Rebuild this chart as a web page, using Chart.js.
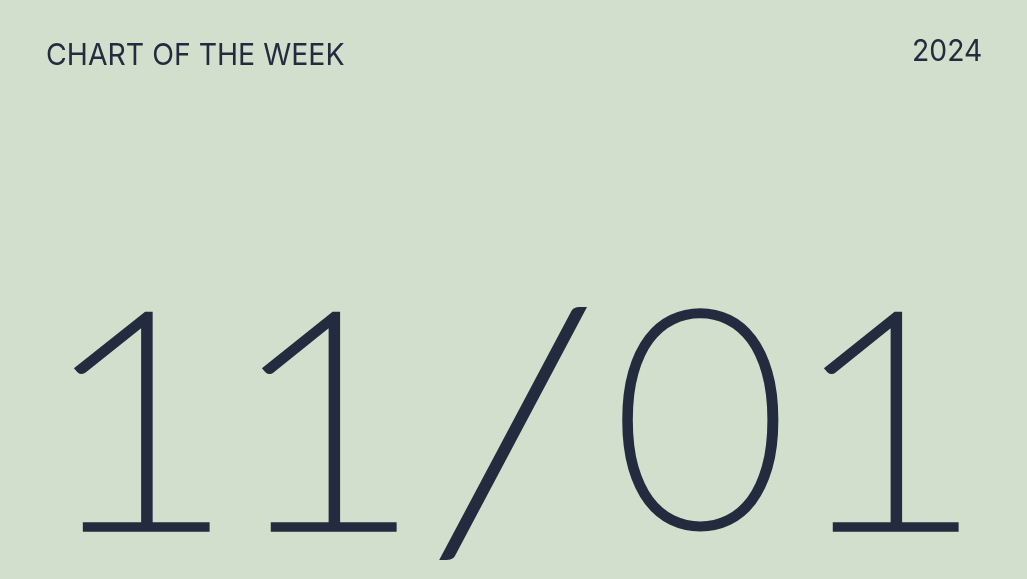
<!DOCTYPE html>
<html>
<head>
<meta charset="utf-8">
<title>Chart of the week</title>
<script src="https://cdn.jsdelivr.net/npm/chart.js@4.4.1/dist/chart.umd.min.js"></script>
<style>
  html, body { margin: 0; padding: 0; background: #d1dfcc; }
  #wrap { width: 1027px; height: 579px; position: relative; }
</style>
</head>
<body>
<div id="wrap"><canvas id="cover"></canvas></div>
<script>
// texts shown on the card
const headerText = ['CHART OF THE WEEK'];
const yearText = ['2024'];
const dateChars = ['1', '1', '/', '0', '1'];

const BG = '#d1dfcc';
const INK = '#232c3e';

// ink boxes [x0, y0, x1, y1]
const headerBox = [47, 43, 344, 65];
const yearBox = [914, 39, 981, 61];
const dateBoxes = [
    [72, 307, 213, 532],
    [260, 307, 400, 532],
    [437, 302, 590, 563],
    [619, 305, 781, 534],
    [822, 307, 962, 532]
];

// fit a string's ink into a box; "grow" thickens the strokes by that much
function fitText(ctx, text, font, box, grow) {
    const g = grow || 0;
    ctx.save();
    ctx.font = font;
    ctx.textAlign = 'left';
    ctx.textBaseline = 'alphabetic';
    const m = ctx.measureText(text);
    const inkW = m.actualBoundingBoxLeft + m.actualBoundingBoxRight;
    const inkH = m.actualBoundingBoxAscent + m.actualBoundingBoxDescent;
    const sx = (box[2] - box[0] - g) / inkW;
    const sy = (box[3] - box[1] - g) / inkH;
    ctx.translate(box[0] + g / 2, box[1] + g / 2);
    ctx.scale(sx, sy);
    ctx.fillStyle = INK;
    ctx.fillText(text, m.actualBoundingBoxLeft, m.actualBoundingBoxAscent);
    if (g > 0) {
        ctx.strokeStyle = INK;
        ctx.lineJoin = 'miter';
        ctx.miterLimit = 3;
        ctx.lineWidth = g / ((sx + sy) / 2);
        ctx.strokeText(text, m.actualBoundingBoxLeft, m.actualBoundingBoxAscent);
    }
    ctx.restore();
}

const coverPlugin = {
    id: 'cover',
    beforeDraw(chart) {
        const ctx = chart.ctx;
        ctx.save();
        ctx.fillStyle = BG;
        ctx.fillRect(0, 0, chart.width, chart.height);
        ctx.restore();
    },
    afterDraw(chart) {
        const ctx = chart.ctx;
        fitText(ctx, headerText[0], '400 29px Inter', headerBox, 0);
        fitText(ctx, yearText[0], '400 30px Inter', yearBox, 0);
        dateChars.forEach(function(ch, i) {
            fitText(ctx, ch, '100 310px Lato', dateBoxes[i], 7);
        });
    }
};

document.fonts.ready.then(function() {
    const ctx = document.getElementById('cover').getContext('2d');
    new Chart(ctx, {
        type: 'scatter',
        data: { datasets: [] },
        options: {
            responsive: true,
            maintainAspectRatio: false,
            animation: false,
            layout: { padding: 0 },
            scales: {
                x: { display: false },
                y: { display: false }
            },
            plugins: {
                legend: { display: false },
                tooltip: { enabled: false }
            }
        },
        plugins: [coverPlugin]
    });
});
</script>
</body>
</html>
